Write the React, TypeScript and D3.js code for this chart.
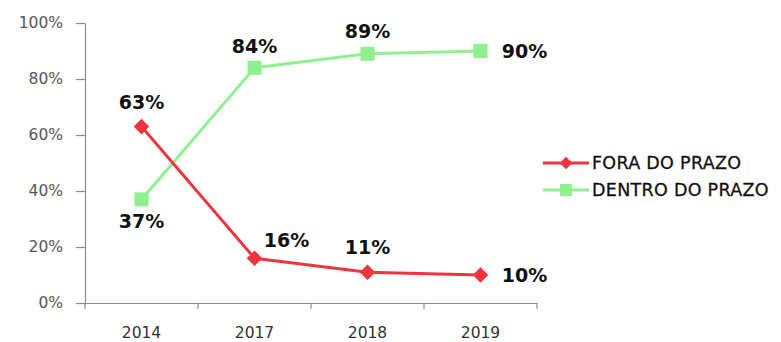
import React, { useEffect, useRef } from 'react';
import * as d3 from 'd3';

const years = ['2014', '2017', '2018', '2019'];
const fora = [63, 16, 11, 10];
const dentro = [37, 84, 89, 90];
const yTicks = [0, 20, 40, 60, 80, 100];
const seriesNames = ['FORA DO PRAZO', 'DENTRO DO PRAZO'];

// label placement per point: [dx, dy] relative to the marker
const foraLabelPos = [[0, -24], [32, -18], [0, -25], [44, 0]];
const dentroLabelPos = [[0, 22], [0, -22], [0, -23], [44, 0]];

const RED = '#f0343e';
const GREEN = '#8ff08f';

const App: React.FC = () => {
  const svgRef = useRef<SVGSVGElement | null>(null);

  useEffect(() => {
    const width = 781;
    const height = 342;
    const margin = { top: 23, left: 85, bottom: 39 };
    const plotW = 452;

    const svg = d3.select(svgRef.current)
      .attr('width', width)
      .attr('height', height)
      .style('background-color', 'white')
      .style('display', 'block');
    svg.selectAll('*').remove();

    const x = d3.scaleBand()
      .domain(years)
      .range([margin.left, margin.left + plotW]);

    const y = d3.scaleLinear()
      .domain([0, 100])
      .range([height - margin.bottom, margin.top]);

    const cx = (d: string) => (x(d) as number) + x.bandwidth() / 2;

    // y axis
    const yAxis = svg.append('g')
      .attr('transform', `translate(${margin.left},0)`)
      .call(d3.axisLeft(y).tickValues(yTicks).tickSize(9).tickSizeOuter(0).tickFormat(d => `${d}%`));
    yAxis.select('.domain').attr('stroke', '#8c8c8c').attr('stroke-width', 1.2);
    yAxis.selectAll('line').attr('stroke', '#8c8c8c').attr('stroke-width', 1.2);
    yAxis.selectAll('text')
      .attr('x', -22)
      .attr('fill', '#555')
      .style('font-family', 'DejaVu Sans')
      .style('font-size', '15.5px');

    // x axis
    const xAxis = svg.append('g')
      .attr('transform', `translate(0,${y(0)})`)
      .call(d3.axisBottom(x).tickSize(0).tickSizeOuter(0));
    xAxis.select('.domain').attr('stroke', '#8c8c8c').attr('stroke-width', 1.2);
    xAxis.selectAll('text')
      .attr('y', 24)
      .attr('fill', '#333')
      .style('font-family', 'DejaVu Sans')
      .style('font-size', '15.5px');
    // boundary ticks between categories
    const bounds = years.map(d => x(d) as number).concat([margin.left + plotW]);
    xAxis.selectAll('.bound')
      .data(bounds)
      .enter()
      .append('line')
      .attr('x1', d => d)
      .attr('x2', d => d)
      .attr('y1', 0)
      .attr('y2', 6)
      .attr('stroke', '#8c8c8c')
      .attr('stroke-width', 1.2);

    const line = d3.line<number>()
      .x((d, i) => cx(years[i]))
      .y(d => y(d));

    // green series
    svg.append('path')
      .attr('d', line(dentro) as string)
      .attr('fill', 'none')
      .attr('stroke', GREEN)
      .attr('stroke-width', 3);
    svg.selectAll('.sq')
      .data(dentro)
      .enter()
      .append('rect')
      .attr('x', (d, i) => cx(years[i]) - 7)
      .attr('y', d => y(d) - 7)
      .attr('width', 14)
      .attr('height', 14)
      .attr('fill', GREEN);

    // red series
    svg.append('path')
      .attr('d', line(fora) as string)
      .attr('fill', 'none')
      .attr('stroke', RED)
      .attr('stroke-width', 3);
    svg.selectAll('.dm')
      .data(fora)
      .enter()
      .append('rect')
      .attr('x', -5.5)
      .attr('y', -5.5)
      .attr('width', 11)
      .attr('height', 11)
      .attr('transform', (d, i) => `translate(${cx(years[i])},${y(d)}) rotate(45)`)
      .attr('fill', RED);

    // data labels
    const addLabels = (vals: number[], pos: number[][]) => {
      svg.append('g')
        .selectAll('text')
        .data(vals)
        .enter()
        .append('text')
        .attr('x', (d, i) => cx(years[i]) + pos[i][0])
        .attr('y', (d, i) => y(d) + pos[i][1])
        .attr('dy', '0.36em')
        .attr('text-anchor', 'middle')
        .style('font-family', 'DejaVu Sans')
        .style('font-weight', 'bold')
        .style('font-size', '19px')
        .attr('fill', '#111')
        .text(d => `${d}%`);
    };
    addLabels(fora, foraLabelPos);
    addLabels(dentro, dentroLabelPos);

    // legend
    const legend = svg.append('g').attr('transform', 'translate(543,163)');
    const colors = [RED, GREEN];
    seriesNames.forEach((name, i) => {
      const g = legend.append('g').attr('transform', `translate(0,${i * 27})`);
      g.append('line')
        .attr('x1', 0).attr('x2', 46)
        .attr('y1', 0).attr('y2', 0)
        .attr('stroke', colors[i])
        .attr('stroke-width', 3);
      if (i === 0) {
        g.append('rect')
          .attr('x', -4.5).attr('y', -4.5)
          .attr('width', 9).attr('height', 9)
          .attr('transform', 'translate(23,0) rotate(45)')
          .attr('fill', colors[i]);
      } else {
        g.append('rect')
          .attr('x', 17).attr('y', -6)
          .attr('width', 12).attr('height', 12)
          .attr('fill', colors[i]);
      }
      g.append('text')
        .attr('x', 49)
        .attr('y', 0)
        .attr('dy', '0.36em')
        .style('font-family', 'DejaVu Sans')
        .style('font-size', '17.5px')
        .style('letter-spacing', '0.3px')
        .attr('fill', '#111')
        .attr('stroke', '#111')
        .attr('stroke-width', 0.3)
        .text(name);
    });
  }, []);

  return (
    <div style={{ position: 'fixed', top: 0, left: 0 }}>
      <svg ref={svgRef}></svg>
    </div>
  );
};

export default App;
